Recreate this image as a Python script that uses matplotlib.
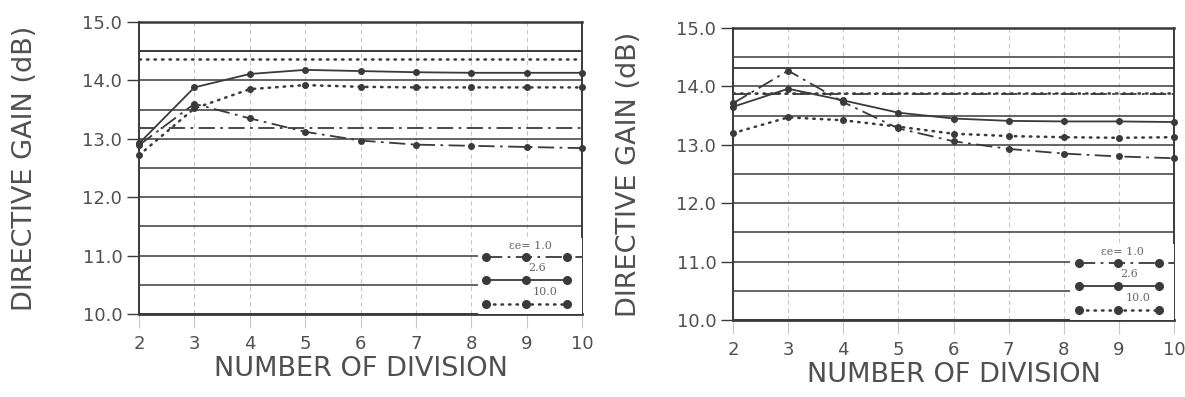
import matplotlib.pyplot as plt
from matplotlib.ticker import MultipleLocator, FormatStrFormatter

plt.rcParams['font.family'] = ['DejaVu Sans']

# number of divisions
divisions = [2, 3, 4, 5, 6, 7, 8, 9, 10]
eps_labels = ["εe= 1.0", "2.6", "10.0"]

# left panel
left_er10 = [12.89, 13.60, 13.35, 13.12, 12.97, 12.90, 12.88, 12.86, 12.84]
left_er26 = [12.92, 13.88, 14.11, 14.18, 14.16, 14.14, 14.13, 14.13, 14.13]
left_er100 = [12.72, 13.52, 13.85, 13.92, 13.89, 13.88, 13.88, 13.88, 13.88]
left_ref = [13.18, 14.51, 14.37]   # reference levels for eps 1.0, 2.6, 10.0

# right panel
right_er10 = [13.71, 14.27, 13.73, 13.28, 13.06, 12.93, 12.85, 12.80, 12.77]
right_er26 = [13.65, 13.96, 13.76, 13.55, 13.45, 13.41, 13.40, 13.40, 13.39]
right_er100 = [13.20, 13.47, 13.42, 13.31, 13.19, 13.15, 13.13, 13.12, 13.13]
right_ref = [13.87, 14.32, 13.89]

ink = '#3a3a3a'
txt = '#505050'
styles = [dict(ls=(0, (9, 3, 1.5, 3)), lw=1.3),
          dict(ls='-', lw=1.3),
          dict(ls=(0, (0.6, 2.4)), lw=1.8, dash_capstyle='round')]

fig = plt.figure(figsize=(11.85, 3.97), dpi=100)
axes_boxes = [[139 / 1185, 1 - 314 / 397, 443 / 1185, 292 / 397],
              [733 / 1185, 1 - 320 / 397, 441 / 1185, 292 / 397]]
panels = [((left_er10, left_er26, left_er100), left_ref),
          ((right_er10, right_er26, right_er100), right_ref)]
ylab_pad = [32, 25]

for i, (box, (series, refs)) in enumerate(zip(axes_boxes, panels)):
    ax = fig.add_axes(box)
    ax.set_xlim(2, 10)
    ax.set_ylim(10, 15)
    ax.xaxis.set_major_locator(MultipleLocator(1))
    ax.yaxis.set_major_locator(MultipleLocator(1))
    ax.yaxis.set_minor_locator(MultipleLocator(0.5))
    ax.yaxis.set_major_formatter(FormatStrFormatter('%.1f'))
    ax.grid(axis='y', which='both', color=ink, lw=1.1, zorder=0)
    ax.grid(axis='x', which='major', color='#c8c8c8', lw=0.8, ls=(0, (4, 3)), zorder=0)
    ax.tick_params(axis='y', which='major', direction='out', length=9, width=1.0,
                   color=ink, labelsize=13, labelcolor=txt, pad=3)
    ax.tick_params(axis='y', which='minor', length=0)
    ax.tick_params(axis='x', direction='out', length=10, width=0.8,
                   color='#c8c8c8', labelsize=13, labelcolor=txt, pad=5)
    for s in ax.spines.values():
        s.set_color(ink)
        s.set_linewidth(1.4)
    ax.spines['bottom'].set_linewidth(2.0)
    ax.spines['top'].set_linewidth(1.8)

    for ys, st, r in zip(series, styles, refs):
        ax.plot(divisions, ys, color=ink, marker='o', ms=4, clip_on=False,
                zorder=3, **st)
        ax.axhline(r, color=ink, zorder=2, **st)

    ax.set_xlabel("NUMBER OF DIVISION", fontsize=19.5, color=txt, labelpad=2)
    ax.set_ylabel("DIRECTIVE GAIN (dB)", fontsize=19.5, color=txt,
                  labelpad=ylab_pad[i])

    # legend box, lower right
    lg = ax.inset_axes([0.765, 0.0, 0.235, 0.26])
    lg.set_xlim(0, 1)
    lg.set_ylim(0, 1)
    lg.set_facecolor('white')
    for s in lg.spines.values():
        s.set_visible(False)
    lg.set_xticks([])
    lg.set_yticks([])
    line_y = [0.75, 0.45, 0.13]
    text_y = [0.9, 0.61, 0.29]
    text_x = [0.5, 0.57, 0.65]
    for k, st in enumerate(styles):
        xe = 1.0 if k == 0 else 0.86
        lg.plot([0.08, xe], [line_y[k]] * 2, color=ink, **st)
        lg.plot([0.08, 0.46, 0.86], [line_y[k]] * 3, ls='none', marker='o',
                ms=5.5, color=ink)
        lg.text(text_x[k], text_y[k], eps_labels[k], ha='center', va='center',
                fontsize=8, color='#666', family='DejaVu Serif')

fig.savefig('out.png', dpi=100)
